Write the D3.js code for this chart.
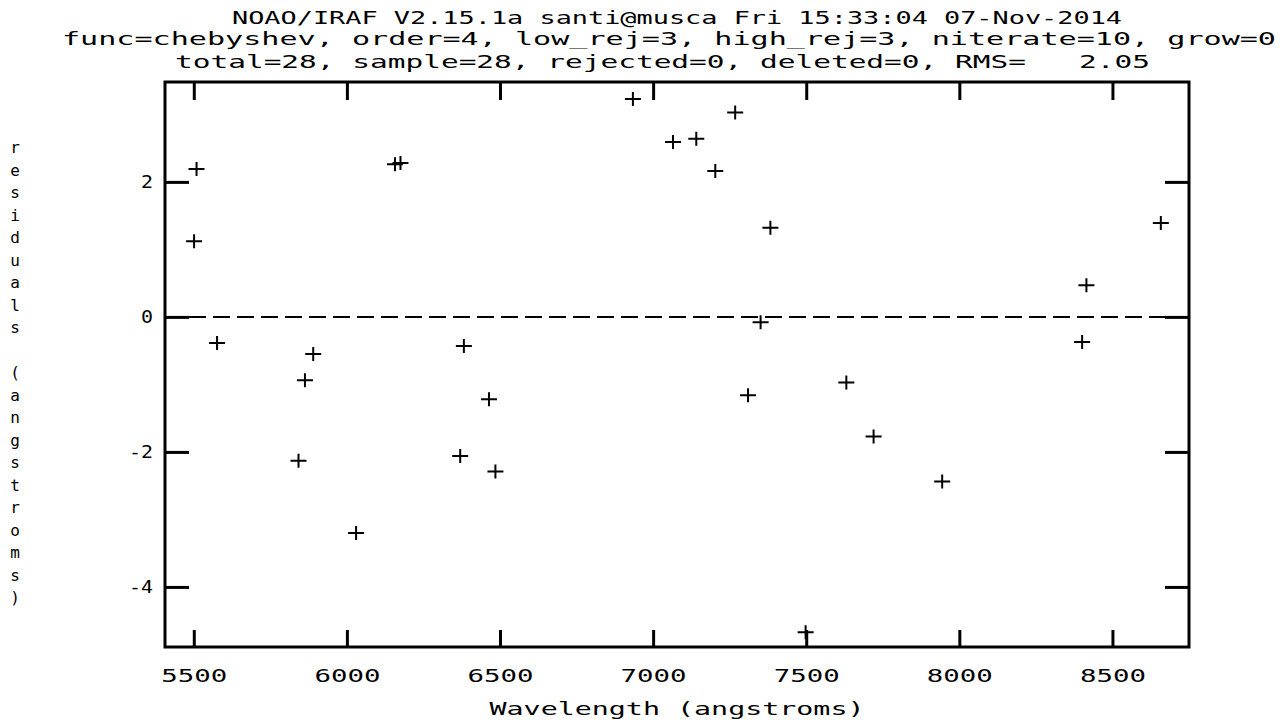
<!DOCTYPE html>
<html>
<head>
<meta charset="utf-8">
<script src="https://cdn.jsdelivr.net/npm/d3@7"></script>
<style>
  body { margin: 0; background: #fff; }
  text { font-family: "DejaVu Sans Mono", monospace; fill: #000; }
</style>
</head>
<body>
<div id="chart"></div>
<script>
// residuals of the wavelength fit
var wavelength = [5509, 5501, 5576, 5842, 5863, 5890, 6030, 6157, 6175, 6370,
                  6382, 6464, 6485, 6934, 7065, 7141, 7268, 7203, 7383, 7351,
                  7310, 7498, 7631, 7720, 7944, 8401, 8415, 8658];
var residual = [2.19, 1.12, -0.385, -2.13, -0.94, -0.55, -3.20, 2.26, 2.28, -2.06,
                -0.43, -1.22, -2.29, 3.23, 2.59, 2.64, 3.03, 2.16, 1.32, -0.08,
                -1.16, -4.67, -0.97, -1.77, -2.44, -0.37, 0.47, 1.39];

var xTicks = [5500, 6000, 6500, 7000, 7500, 8000, 8500];
var yTicks = [-4, -2, 0, 2];

var titleLines = [
    "NOAO/IRAF V2.15.1a santi@musca Fri 15:33:04 07-Nov-2014",
    "func=chebyshev, order=4, low_rej=3, high_rej=3, niterate=10, grow=0",
    "total=28, sample=28, rejected=0, deleted=0, RMS=   2.05"
];
var xTitle = "Wavelength (angstroms)";
var yTitle = "residuals (angstroms)";

//Set-up canvas
var svgWidth = 1284;
var svgHeight = 720;

var margin = { top: 82, bottom: 73, left: 165, right: 95 };
var width = svgWidth - margin.left - margin.right;
var height = svgHeight - margin.top - margin.bottom;

var svg = d3.select("#chart")
    .append("svg")
    .attr("width", svgWidth)
    .attr("height", svgHeight);

var chartGroup = svg.append("g")
    .attr("transform", `translate(${margin.left}, ${margin.top})`);

var x = d3.scaleLinear().domain([5406, 8750]).range([0, width]);
var y = d3.scaleLinear().domain([-4.89, 3.48]).range([height, 0]);

// zero line
chartGroup.append("line")
    .attr("x1", 0).attr("x2", width)
    .attr("y1", y(0)).attr("y2", y(0))
    .attr("stroke", "#000")
    .attr("stroke-width", 2)
    .attr("stroke-dasharray", "17,7");

// axes: ticks point inward, labels only bottom/left
var bottomAxis = d3.axisBottom(x).tickValues(xTicks).tickSizeInner(-17).tickSizeOuter(0)
    .tickPadding(22).tickFormat(d3.format("d"));
var topAxis = d3.axisTop(x).tickValues(xTicks).tickSizeInner(-18).tickSizeOuter(0).tickFormat("");
var leftAxis = d3.axisLeft(y).tickValues(yTicks).tickSizeInner(-24).tickSizeOuter(0)
    .tickPadding(12).tickFormat(d => d < 0 ? "-" + Math.abs(d) : String(d));
var rightAxis = d3.axisRight(y).tickValues(yTicks).tickSizeInner(-24).tickSizeOuter(0).tickFormat("");

var axes = [
    chartGroup.append("g").attr("transform", `translate(0, ${height})`).call(bottomAxis),
    chartGroup.append("g").call(topAxis),
    chartGroup.append("g").call(leftAxis),
    chartGroup.append("g").attr("transform", `translate(${width}, 0)`).call(rightAxis)
];
axes.forEach(function(a) {
    a.select(".domain").remove();
    a.selectAll("line").attr("stroke", "#000").attr("stroke-width", 3);
    a.selectAll("text")
        .style("font-family", "'DejaVu Sans Mono', monospace")
        .style("font-size", "18px")
        .attr("fill", "#000");
});
axes[0].selectAll("text")
    .attr("textLength", 66)
    .attr("lengthAdjust", "spacingAndGlyphs");
axes[2].selectAll("text")
    .attr("textLength", d => d < 0 ? 24 : 12)
    .attr("lengthAdjust", "spacingAndGlyphs");

// frame
chartGroup.append("rect")
    .attr("width", width)
    .attr("height", height)
    .attr("fill", "none")
    .attr("stroke", "#000")
    .attr("stroke-width", 3);

// plus markers
chartGroup.selectAll(".pt")
    .data(wavelength)
    .enter()
    .append("path")
    .attr("class", "pt")
    .attr("d", function(d, i) {
        var cx = x(d), cy = y(residual[i]);
        return `M${cx - 8},${cy}H${cx + 8}M${cx},${cy - 7}V${cy + 7}`;
    })
    .attr("stroke", "#000")
    .attr("stroke-width", 2)
    .attr("fill", "none");

// title block
var titlePos = [
    { x: 232, y: 24, len: 890 },
    { x: 62, y: 45, len: 1214 },
    { x: 175, y: 68, len: 975 }
];
svg.selectAll(".title")
    .data(titleLines)
    .enter()
    .append("text")
    .attr("class", "title")
    .attr("x", (d, i) => titlePos[i].x)
    .attr("y", (d, i) => titlePos[i].y)
    .attr("textLength", (d, i) => titlePos[i].len)
    .attr("lengthAdjust", "spacingAndGlyphs")
    .style("font-size", "18px")
    .style("white-space", "pre")
    .text(d => d);

// x axis title
svg.append("text")
    .attr("x", margin.left + width / 2)
    .attr("y", 715)
    .attr("text-anchor", "middle")
    .attr("textLength", 375)
    .attr("lengthAdjust", "spacingAndGlyphs")
    .style("font-size", "18px")
    .text(xTitle);

// y axis title, one letter per row
svg.selectAll(".ylab")
    .data(yTitle.split(""))
    .enter()
    .append("text")
    .attr("class", "ylab")
    .attr("x", 15)
    .attr("y", (d, i) => 153 + i * 22.5)
    .attr("text-anchor", "middle")
    .style("font-size", "16px")
    .text(d => d);
</script>
</body>
</html>
